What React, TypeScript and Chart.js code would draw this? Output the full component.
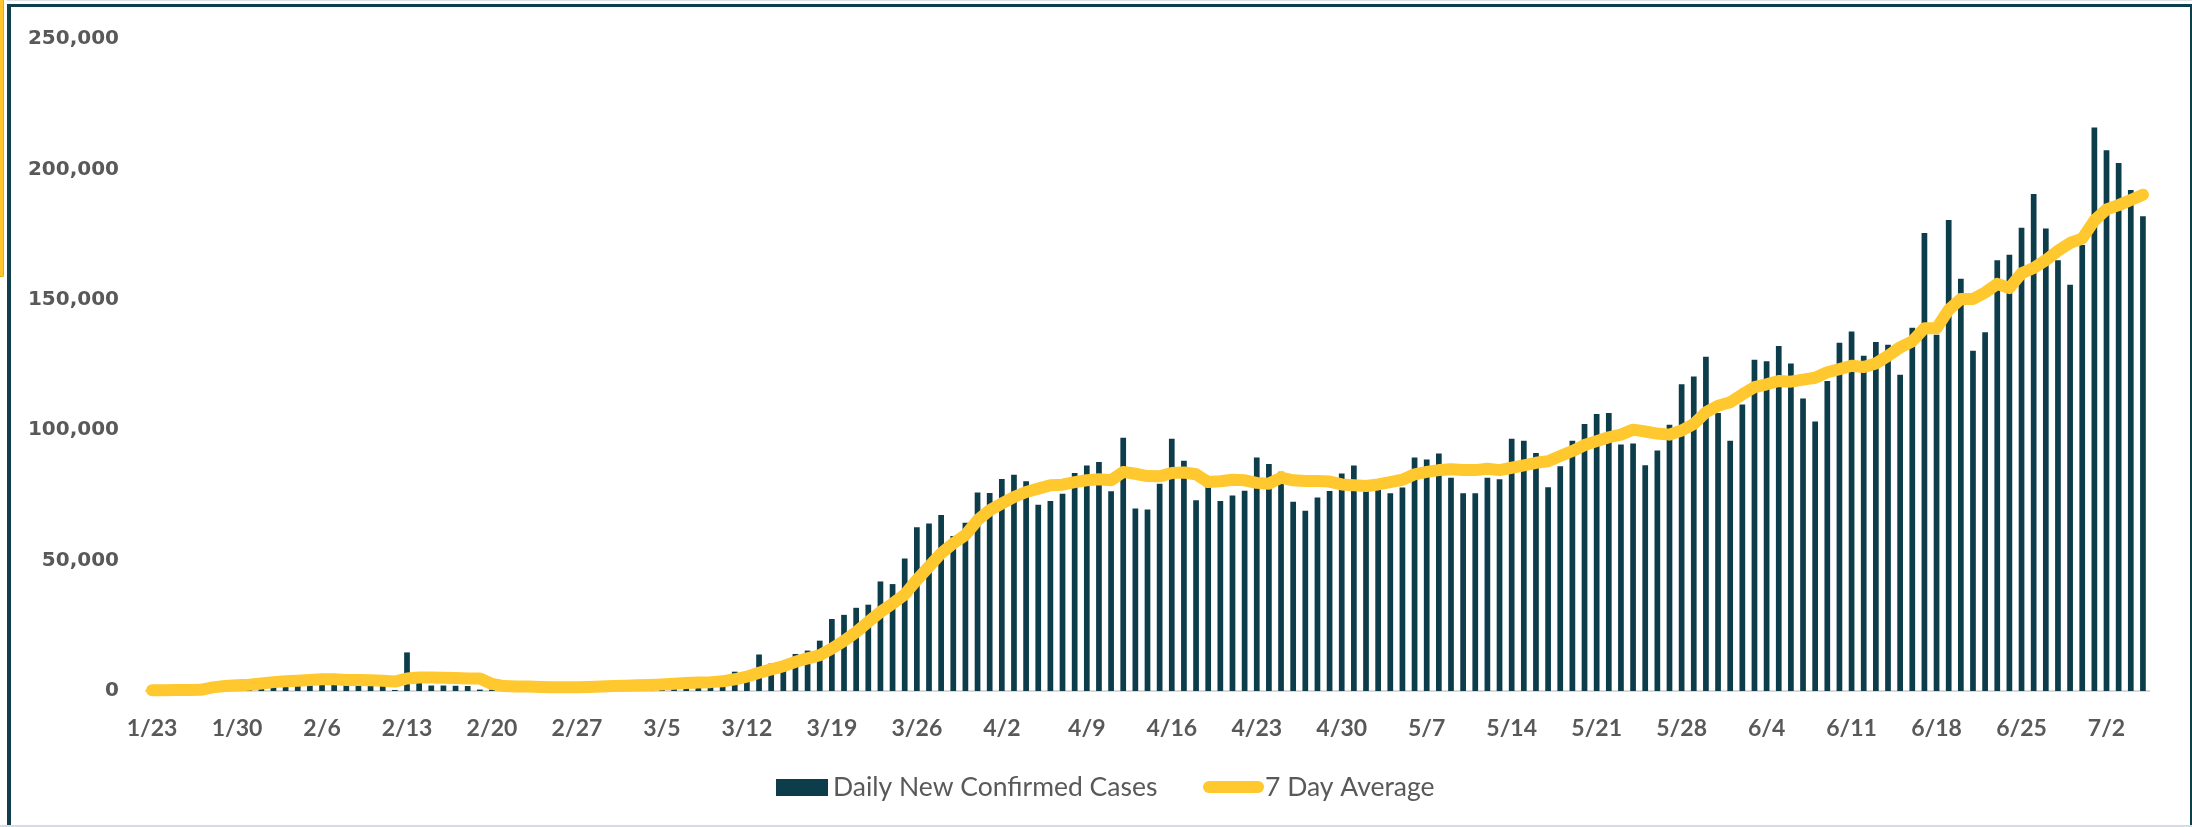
import React, { useEffect, useRef } from 'react';
import { Chart, registerables } from 'chart.js';

Chart.register(...registerables);

// Calendar spans: [month, first day, last day]
const MONTH_SPANS: number[][] = [
  [1, 23, 31], [2, 1, 29], [3, 1, 31], [4, 1, 30], [5, 1, 31], [6, 1, 30], [7, 1, 5],
];
const DATES: string[] = [];
for (const [m, s, e] of MONTH_SPANS) for (let d = s; d <= e; d++) DATES.push(`${m}/${d}`);

const TICK_LABELS = [
  '1/23', '1/30', '2/6', '2/13', '2/20', '2/27', '3/5', '3/12', '3/19', '3/26', '4/2', '4/9',
  '4/16', '4/23', '4/30', '5/7', '5/14', '5/21', '5/28', '6/4', '6/11', '6/18', '6/25', '7/2',
];
const Y_TICKS = [0, 50000, 100000, 150000, 200000, 250000];

const DAILY_CASES = [
  // Jan 23 - Jan 31
  100, 290, 490, 680, 810, 2300, 580, 2070, 1690,
  // Feb
  2110, 4600, 3100, 3900, 3700, 3200, 3400, 2650, 3000, 2500, 2000, 400, 14800, 5000, 2100, 2100,
  2000, 1900, 550, 600, 1000, 1000, 600, 600, 900, 950, 1200, 1400, 1800,
  // Mar
  1900, 1800, 2400, 2200, 2800, 3700, 4000, 3600, 4000, 4500, 7400, 6200, 14000, 10500, 10900, 14200,
  15500, 19300, 27600, 29200, 31900, 33100, 42000, 41000, 50800, 62800, 64200, 67500, 59400, 64500, 76100,
  // Apr
  75900, 81300, 82900, 80400, 71400, 72900, 75600, 83600, 86500, 87800, 76600, 97100, 70000, 69600, 79500,
  96700, 88300, 73100, 78200, 72900, 75000, 76800, 89500, 87000, 84100, 72600, 69100, 74200, 76700, 83400,
  // May
  86500, 80300, 79200, 75800, 78000, 89500, 88800, 91100, 81800, 75800, 75800, 81800, 81200, 96700, 96000,
  91300, 78100, 86200, 96000, 102400, 106200, 106600, 94500, 94900, 86600, 92200, 102100, 117600, 120600,
  128200, 106600,
  // Jun
  96000, 109900, 127000, 126400, 132300, 125600, 112200, 103300, 118900, 133500, 137800, 128500, 133800,
  132800, 121300, 139300, 175600, 136600, 180600, 158100, 130500, 137600, 165200, 167300, 177600, 190600,
  177300, 165200, 155800, 171000,
  // Jul
  216100, 207300, 202500, 192100, 182000,
];

const SEVEN_DAY_AVG = [
  // Jan 23 - Jan 31
  300, 300, 350, 400, 450, 1400, 1900, 2200, 2400,
  // Feb
  2900, 3400, 3700, 3900, 4200, 4500, 4500, 4200, 4200, 4100, 3900, 3600, 4800, 5200, 5200, 5100,
  5000, 4800, 4800, 2700, 1900, 1700, 1700, 1500, 1400, 1400, 1400, 1500, 1700,
  // Mar
  1900, 2000, 2200, 2300, 2500, 2800, 3100, 3300, 3400, 3700, 4500, 5500, 7000, 8300, 9500, 11200,
  12500, 13700, 16300, 19200, 22600, 26500, 30300, 33500, 37000, 42600, 47700, 52800, 56600, 59800, 65500,
  // Apr
  69300, 71900, 74400, 76300, 77600, 78900, 79100, 80100, 80800, 81200, 80800, 84000, 83300, 82400, 82300,
  83600, 83800, 83100, 80100, 80400, 81000, 80800, 79800, 79500, 81800, 80800, 80500, 80500, 80300, 79200,
  // May
  78900, 78600, 79200, 80100, 81000, 83100, 84000, 84700, 85000, 84700, 84700, 85200, 84700, 85600, 86500,
  87500, 88100, 90100, 92000, 94300, 95800, 97300, 98300, 100200, 99500, 98700, 98300, 99900, 102400,
  106900, 109400,
  // Jun
  110700, 113700, 116500, 117600, 118900, 118600, 119400, 120100, 122200, 123400, 124700, 124200, 125600,
  128500, 131800, 134100, 139100, 139100, 146200, 150300, 150300, 152800, 156100, 154500, 160200, 162200,
  165200, 168800, 171800, 173500,
  // Jul
  180400, 184700, 186300, 188300, 190300,
];

const NAVY = '#0D3C4B';
const YELLOW = '#FFC82E';
const TEXT_GRAY = '#595959';

const TICK_SET = new Set(TICK_LABELS);

const legendPlugin = {
  id: 'bottomLegend',
  afterDraw(chart: any) {
    const ctx = chart.ctx as CanvasRenderingContext2D;
    const ds = chart.data.datasets;
    const barLabel = ds.find((d: any) => d.type === 'bar')?.label ?? '';
    const lineLabel = ds.find((d: any) => d.type === 'line')?.label ?? '';
    ctx.save();
    ctx.fillStyle = NAVY;
    ctx.fillRect(776, 779, 52, 17);
    ctx.font = '26.5px Lato';
    ctx.fillStyle = TEXT_GRAY;
    ctx.textBaseline = 'alphabetic';
    ctx.textAlign = 'left';
    ctx.fillText(barLabel, 833, 796);
    ctx.strokeStyle = YELLOW;
    ctx.lineWidth = 12;
    ctx.lineCap = 'round';
    ctx.beginPath();
    ctx.moveTo(1209, 787);
    ctx.lineTo(1258, 787);
    ctx.stroke();
    ctx.fillStyle = TEXT_GRAY;
    ctx.fillText(lineLabel, 1265, 796);
    ctx.restore();
  },
};

export default function App() {
  const canvasRef = useRef<HTMLCanvasElement | null>(null);

  useEffect(() => {
    document.body.style.margin = '0';
    const canvas = canvasRef.current;
    if (!canvas) return;
    const chart = new Chart(canvas, {
      type: 'bar',
      data: {
        labels: DATES,
        datasets: [
          {
            type: 'bar',
            label: 'Daily New Confirmed Cases',
            data: DAILY_CASES,
            backgroundColor: NAVY,
            borderWidth: 0,
            barPercentage: 0.47,
            categoryPercentage: 1,
            order: 1,
          } as any,
          {
            type: 'line',
            label: '7 Day Average',
            data: SEVEN_DAY_AVG,
            borderColor: YELLOW,
            backgroundColor: YELLOW,
            borderWidth: 12,
            pointRadius: 0,
            pointHoverRadius: 0,
            tension: 0,
            borderCapStyle: 'round',
            borderJoinStyle: 'round',
            order: 0,
            clip: false,
          } as any,
        ],
      },
      options: {
        responsive: false,
        animation: false,
        devicePixelRatio: 1,
        layout: { padding: { left: 0, right: 43, top: 36, bottom: 76 } },
        plugins: {
          legend: { display: false },
          tooltip: { enabled: false },
        },
        scales: {
          x: {
            grid: { display: false, drawTicks: false },
            border: { display: true, color: '#D9D9D9', width: 2 },
            ticks: {
              autoSkip: false,
              maxRotation: 0,
              minRotation: 0,
              padding: 24,
              color: TEXT_GRAY,
              font: { family: 'Lato', weight: 'bold', size: 23 },
              callback: (_v: any, i: number) => (TICK_SET.has(DATES[i]) ? DATES[i] : ''),
            },
            afterFit: (s: any) => { s.height = 60; },
          },
          y: {
            min: Y_TICKS[0],
            max: Y_TICKS[Y_TICKS.length - 1],
            grid: { display: false, drawTicks: false },
            border: { display: false },
            ticks: {
              stepSize: Y_TICKS[1] - Y_TICKS[0],
              padding: 27,
              color: TEXT_GRAY,
              font: { family: 'DejaVu Sans', weight: 'bold', size: 20 },
              callback: (v: any) => Number(v).toLocaleString('en-US'),
            },
            afterFit: (s: any) => { s.width = 146; },
          },
        },
      } as any,
      plugins: [legendPlugin],
    });
    return () => chart.destroy();
  }, []);

  return (
    <div style={{ position: 'fixed', left: 0, top: 0, width: 2192, height: 827, background: '#fff', overflow: 'hidden' }}>
      <div style={{ position: 'absolute', left: 0, top: 0, width: 3, height: 276, background: '#FFC72C', borderRight: '1px solid #E2AC10', borderBottom: '1px solid #E2AC10', borderBottomRightRadius: 2 }} />
      <div style={{ position: 'absolute', left: 7, top: 0, width: 2185, height: 1, background: '#DDE3E6' }} />
      <div style={{ position: 'absolute', left: 7, top: 4, width: 2192, height: 900, boxSizing: 'border-box', borderLeft: '4px solid #0F3E4C', borderTop: '3px solid #0F3E4C' }} />
      <div style={{ position: 'absolute', left: 2190, top: 4, width: 4, height: 823, background: '#0F3E4C' }} />
      <div style={{ position: 'absolute', left: 0, top: 825, width: 2192, height: 2, background: '#D5DDE0' }} />
      <canvas ref={canvasRef} width={2192} height={827} style={{ position: 'absolute', left: 0, top: 0, width: 2192, height: 827 }} />
    </div>
  );
}
